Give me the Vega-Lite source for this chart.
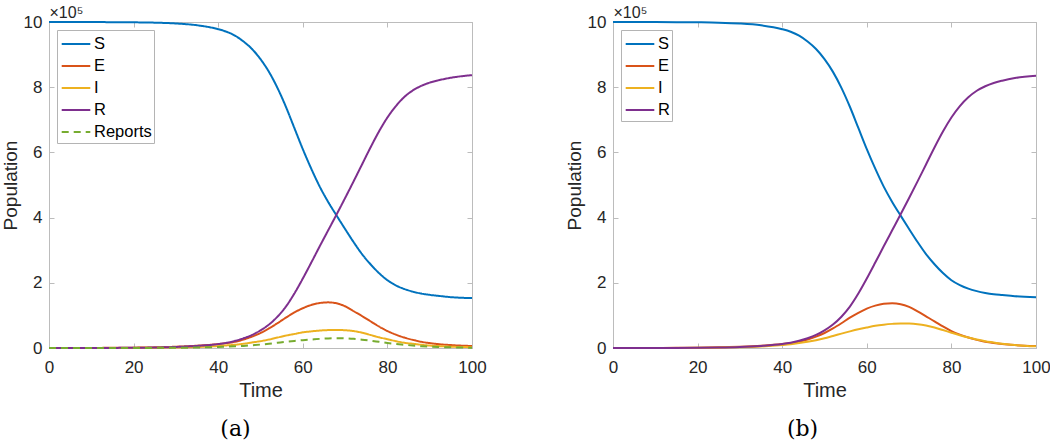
{
  "$schema": "https://vega.github.io/schema/vega-lite/v6.json",
  "background": "white",
  "padding": {"left": 0, "top": 4, "right": 0, "bottom": 4},
  "bounds": "flush",
  "spacing": 141,
  "resolve": {"scale": {"color": "independent", "strokeDash": "independent"}},
  "config": {
    "font": "Liberation Sans",
    "view": {"stroke": "#bcbcbc", "strokeWidth": 1},
    "axis": {
      "grid": false,
      "domainColor": "#bcbcbc",
      "tickColor": "#bcbcbc",
      "tickSize": -5,
      "labelColor": "#262626",
      "titleColor": "#262626",
      "labelFontSize": 17,
      "titleFontSize": 20,
      "titleFontWeight": "normal",
      "labelFlush": false,
      "labelPadding": 12
    },
    "legend": {
      "orient": "top-left",
      "offset": 8,
      "symbolType": "M-1.3,0H1.3",
      "symbolSize": 484,
      "symbolStrokeWidth": 2,
      "symbolOffset": 5,
      "labelFontSize": 16.5,
      "labelColor": "#000000",
      "labelOffset": 6,
      "fillColor": "white",
      "strokeColor": "#b4b4b4",
      "padding": 2,
      "rowPadding": 1
    }
  },
  "datasets": {
    "a": [
      {"t":0,"series":"S","value":1000000},{"t":5,"series":"S","value":1000000},{"t":10,"series":"S","value":999800},{"t":15,"series":"S","value":999500},{"t":20,"series":"S","value":999000},{"t":25,"series":"S","value":998000},{"t":30,"series":"S","value":995500},{"t":35,"series":"S","value":990000},{"t":40,"series":"S","value":978000},{"t":42,"series":"S","value":970000},{"t":44,"series":"S","value":958000},{"t":46,"series":"S","value":940000},{"t":48,"series":"S","value":917000},{"t":50,"series":"S","value":886000},{"t":52,"series":"S","value":847000},{"t":54,"series":"S","value":798000},{"t":56,"series":"S","value":740000},{"t":58,"series":"S","value":675000},{"t":60,"series":"S","value":610000},{"t":62,"series":"S","value":550000},{"t":64,"series":"S","value":495000},{"t":66,"series":"S","value":448000},{"t":68,"series":"S","value":406000},{"t":70,"series":"S","value":365000},{"t":72,"series":"S","value":325000},{"t":74,"series":"S","value":288000},{"t":76,"series":"S","value":257000},{"t":78,"series":"S","value":230000},{"t":80,"series":"S","value":208000},{"t":82,"series":"S","value":192000},{"t":84,"series":"S","value":181000},{"t":86,"series":"S","value":173000},{"t":88,"series":"S","value":167000},{"t":90,"series":"S","value":163000},{"t":92,"series":"S","value":160000},{"t":95,"series":"S","value":156000},{"t":100,"series":"S","value":153000},
      {"t":0,"series":"E","value":0},{"t":5,"series":"E","value":100},{"t":10,"series":"E","value":300},{"t":15,"series":"E","value":500},{"t":20,"series":"E","value":1000},{"t":25,"series":"E","value":2000},{"t":30,"series":"E","value":4000},{"t":35,"series":"E","value":7000},{"t":40,"series":"E","value":12000},{"t":42,"series":"E","value":15000},{"t":44,"series":"E","value":19000},{"t":46,"series":"E","value":26000},{"t":48,"series":"E","value":35000},{"t":50,"series":"E","value":46000},{"t":52,"series":"E","value":60000},{"t":54,"series":"E","value":76000},{"t":56,"series":"E","value":93000},{"t":58,"series":"E","value":109000},{"t":60,"series":"E","value":122000},{"t":62,"series":"E","value":132000},{"t":64,"series":"E","value":138000},{"t":66,"series":"E","value":140000},{"t":68,"series":"E","value":137000},{"t":70,"series":"E","value":128000},{"t":72,"series":"E","value":113000},{"t":74,"series":"E","value":98000},{"t":76,"series":"E","value":82000},{"t":78,"series":"E","value":66000},{"t":80,"series":"E","value":52000},{"t":82,"series":"E","value":41000},{"t":84,"series":"E","value":32000},{"t":86,"series":"E","value":25000},{"t":88,"series":"E","value":19000},{"t":90,"series":"E","value":15000},{"t":92,"series":"E","value":12000},{"t":95,"series":"E","value":9000},{"t":100,"series":"E","value":6000},
      {"t":0,"series":"I","value":0},{"t":5,"series":"I","value":50},{"t":10,"series":"I","value":100},{"t":15,"series":"I","value":200},{"t":20,"series":"I","value":400},{"t":25,"series":"I","value":800},{"t":30,"series":"I","value":1600},{"t":35,"series":"I","value":3000},{"t":40,"series":"I","value":6000},{"t":42,"series":"I","value":8000},{"t":44,"series":"I","value":10000},{"t":46,"series":"I","value":13000},{"t":48,"series":"I","value":17000},{"t":50,"series":"I","value":21000},{"t":52,"series":"I","value":26000},{"t":54,"series":"I","value":32000},{"t":56,"series":"I","value":38000},{"t":58,"series":"I","value":43000},{"t":60,"series":"I","value":48000},{"t":62,"series":"I","value":51000},{"t":64,"series":"I","value":53500},{"t":66,"series":"I","value":55000},{"t":68,"series":"I","value":55500},{"t":70,"series":"I","value":54500},{"t":72,"series":"I","value":52000},{"t":74,"series":"I","value":47000},{"t":76,"series":"I","value":40000},{"t":78,"series":"I","value":33000},{"t":80,"series":"I","value":27000},{"t":82,"series":"I","value":21000},{"t":84,"series":"I","value":16000},{"t":86,"series":"I","value":13000},{"t":88,"series":"I","value":10000},{"t":90,"series":"I","value":7500},{"t":92,"series":"I","value":6000},{"t":95,"series":"I","value":4000},{"t":100,"series":"I","value":2500},
      {"t":0,"series":"R","value":0},{"t":5,"series":"R","value":50},{"t":10,"series":"R","value":100},{"t":15,"series":"R","value":300},{"t":20,"series":"R","value":700},{"t":25,"series":"R","value":1500},{"t":30,"series":"R","value":3200},{"t":35,"series":"R","value":6500},{"t":40,"series":"R","value":12000},{"t":42,"series":"R","value":16000},{"t":44,"series":"R","value":22000},{"t":46,"series":"R","value":30000},{"t":48,"series":"R","value":40000},{"t":50,"series":"R","value":54000},{"t":52,"series":"R","value":72000},{"t":54,"series":"R","value":96000},{"t":56,"series":"R","value":127000},{"t":58,"series":"R","value":167000},{"t":60,"series":"R","value":213000},{"t":62,"series":"R","value":262000},{"t":64,"series":"R","value":312000},{"t":66,"series":"R","value":361000},{"t":68,"series":"R","value":410000},{"t":70,"series":"R","value":460000},{"t":72,"series":"R","value":511000},{"t":74,"series":"R","value":563000},{"t":76,"series":"R","value":615000},{"t":78,"series":"R","value":664000},{"t":80,"series":"R","value":707000},{"t":82,"series":"R","value":742000},{"t":84,"series":"R","value":770000},{"t":86,"series":"R","value":790000},{"t":88,"series":"R","value":804000},{"t":90,"series":"R","value":814000},{"t":92,"series":"R","value":821000},{"t":95,"series":"R","value":829000},{"t":100,"series":"R","value":837000},
      {"t":0,"series":"Reports","value":0},{"t":5,"series":"Reports","value":20},{"t":10,"series":"Reports","value":50},{"t":15,"series":"Reports","value":100},{"t":20,"series":"Reports","value":200},{"t":25,"series":"Reports","value":400},{"t":30,"series":"Reports","value":800},{"t":35,"series":"Reports","value":1500},{"t":40,"series":"Reports","value":3000},{"t":42,"series":"Reports","value":4000},{"t":44,"series":"Reports","value":5000},{"t":46,"series":"Reports","value":6500},{"t":48,"series":"Reports","value":8500},{"t":50,"series":"Reports","value":10500},{"t":52,"series":"Reports","value":13000},{"t":54,"series":"Reports","value":16000},{"t":56,"series":"Reports","value":19000},{"t":58,"series":"Reports","value":21500},{"t":60,"series":"Reports","value":24000},{"t":62,"series":"Reports","value":26000},{"t":64,"series":"Reports","value":28000},{"t":66,"series":"Reports","value":29500},{"t":68,"series":"Reports","value":30000},{"t":70,"series":"Reports","value":29500},{"t":72,"series":"Reports","value":28000},{"t":74,"series":"Reports","value":25500},{"t":76,"series":"Reports","value":22500},{"t":78,"series":"Reports","value":19000},{"t":80,"series":"Reports","value":15500},{"t":82,"series":"Reports","value":12500},{"t":84,"series":"Reports","value":10000},{"t":86,"series":"Reports","value":7500},{"t":88,"series":"Reports","value":5500},{"t":90,"series":"Reports","value":4000},{"t":92,"series":"Reports","value":3000},{"t":95,"series":"Reports","value":2000},{"t":100,"series":"Reports","value":1000}
    ],
    "b": [
      {"t":0,"series":"S","value":1000000},{"t":5,"series":"S","value":1000000},{"t":10,"series":"S","value":999800},{"t":15,"series":"S","value":999500},{"t":20,"series":"S","value":999000},{"t":25,"series":"S","value":998000},{"t":30,"series":"S","value":995500},{"t":35,"series":"S","value":990000},{"t":40,"series":"S","value":978000},{"t":42,"series":"S","value":970000},{"t":44,"series":"S","value":958000},{"t":46,"series":"S","value":940000},{"t":48,"series":"S","value":917000},{"t":50,"series":"S","value":886000},{"t":52,"series":"S","value":847000},{"t":54,"series":"S","value":798000},{"t":56,"series":"S","value":740000},{"t":58,"series":"S","value":675000},{"t":60,"series":"S","value":610000},{"t":62,"series":"S","value":550000},{"t":64,"series":"S","value":495000},{"t":66,"series":"S","value":448000},{"t":68,"series":"S","value":406000},{"t":70,"series":"S","value":365000},{"t":72,"series":"S","value":325000},{"t":74,"series":"S","value":288000},{"t":76,"series":"S","value":257000},{"t":78,"series":"S","value":230000},{"t":80,"series":"S","value":208000},{"t":82,"series":"S","value":193000},{"t":84,"series":"S","value":182000},{"t":86,"series":"S","value":174500},{"t":88,"series":"S","value":169000},{"t":90,"series":"S","value":165000},{"t":92,"series":"S","value":162500},{"t":95,"series":"S","value":159000},{"t":100,"series":"S","value":156000},
      {"t":0,"series":"E","value":0},{"t":5,"series":"E","value":100},{"t":10,"series":"E","value":300},{"t":15,"series":"E","value":500},{"t":20,"series":"E","value":1000},{"t":25,"series":"E","value":2000},{"t":30,"series":"E","value":4000},{"t":35,"series":"E","value":7000},{"t":40,"series":"E","value":12000},{"t":42,"series":"E","value":15000},{"t":44,"series":"E","value":19000},{"t":46,"series":"E","value":26000},{"t":48,"series":"E","value":35000},{"t":50,"series":"E","value":46000},{"t":52,"series":"E","value":60000},{"t":54,"series":"E","value":76000},{"t":56,"series":"E","value":93000},{"t":58,"series":"E","value":108000},{"t":60,"series":"E","value":121000},{"t":62,"series":"E","value":130000},{"t":64,"series":"E","value":135500},{"t":66,"series":"E","value":137000},{"t":68,"series":"E","value":134500},{"t":70,"series":"E","value":126000},{"t":72,"series":"E","value":112000},{"t":74,"series":"E","value":97000},{"t":76,"series":"E","value":82000},{"t":78,"series":"E","value":66000},{"t":80,"series":"E","value":52000},{"t":82,"series":"E","value":41000},{"t":84,"series":"E","value":32000},{"t":86,"series":"E","value":25000},{"t":88,"series":"E","value":19000},{"t":90,"series":"E","value":15000},{"t":92,"series":"E","value":12000},{"t":95,"series":"E","value":9000},{"t":100,"series":"E","value":6000},
      {"t":0,"series":"I","value":0},{"t":5,"series":"I","value":50},{"t":10,"series":"I","value":100},{"t":15,"series":"I","value":300},{"t":20,"series":"I","value":500},{"t":25,"series":"I","value":1100},{"t":30,"series":"I","value":2200},{"t":35,"series":"I","value":4500},{"t":40,"series":"I","value":9000},{"t":42,"series":"I","value":11500},{"t":44,"series":"I","value":15000},{"t":46,"series":"I","value":19000},{"t":48,"series":"I","value":24000},{"t":50,"series":"I","value":30000},{"t":52,"series":"I","value":37000},{"t":54,"series":"I","value":44000},{"t":56,"series":"I","value":51000},{"t":58,"series":"I","value":57500},{"t":60,"series":"I","value":63000},{"t":62,"series":"I","value":68000},{"t":64,"series":"I","value":71500},{"t":66,"series":"I","value":74000},{"t":68,"series":"I","value":75500},{"t":70,"series":"I","value":75000},{"t":72,"series":"I","value":73000},{"t":74,"series":"I","value":69000},{"t":76,"series":"I","value":63000},{"t":78,"series":"I","value":55000},{"t":80,"series":"I","value":47000},{"t":82,"series":"I","value":39000},{"t":84,"series":"I","value":32000},{"t":86,"series":"I","value":26000},{"t":88,"series":"I","value":21000},{"t":90,"series":"I","value":17000},{"t":92,"series":"I","value":13000},{"t":95,"series":"I","value":9000},{"t":100,"series":"I","value":5000},
      {"t":0,"series":"R","value":0},{"t":5,"series":"R","value":50},{"t":10,"series":"R","value":100},{"t":15,"series":"R","value":300},{"t":20,"series":"R","value":700},{"t":25,"series":"R","value":1500},{"t":30,"series":"R","value":3200},{"t":35,"series":"R","value":6500},{"t":40,"series":"R","value":12000},{"t":42,"series":"R","value":16000},{"t":44,"series":"R","value":22000},{"t":46,"series":"R","value":30000},{"t":48,"series":"R","value":40000},{"t":50,"series":"R","value":54000},{"t":52,"series":"R","value":72000},{"t":54,"series":"R","value":96000},{"t":56,"series":"R","value":127000},{"t":58,"series":"R","value":167000},{"t":60,"series":"R","value":213000},{"t":62,"series":"R","value":262000},{"t":64,"series":"R","value":312000},{"t":66,"series":"R","value":361000},{"t":68,"series":"R","value":410000},{"t":70,"series":"R","value":460000},{"t":72,"series":"R","value":511000},{"t":74,"series":"R","value":563000},{"t":76,"series":"R","value":615000},{"t":78,"series":"R","value":664000},{"t":80,"series":"R","value":707000},{"t":82,"series":"R","value":742000},{"t":84,"series":"R","value":769000},{"t":86,"series":"R","value":789000},{"t":88,"series":"R","value":803000},{"t":90,"series":"R","value":813000},{"t":92,"series":"R","value":820000},{"t":95,"series":"R","value":828000},{"t":100,"series":"R","value":835000}
    ]
  },
  "hconcat": [
    {
      "width": 423,
      "height": 326,
      "title": {"text": "(a)", "orient": "bottom", "anchor": "middle", "font": "DejaVu Serif", "fontSize": 22, "fontWeight": "normal", "color": "#000000", "dx": -25, "offset": 19},
      "data": {"name": "a"},
      "resolve": {"axis": {"x": "independent", "y": "independent"}},
      "layer": [
        {
          "mark": {"type": "line", "strokeWidth": 2, "interpolate": "monotone"},
          "encoding": {
            "x": {"field": "t", "type": "quantitative", "scale": {"domain": [0, 100], "nice": false},
                  "axis": {"values": [0, 20, 40, 60, 80, 100], "title": "Time", "titlePadding": 5, "labelPadding": 16}},
            "y": {"field": "value", "type": "quantitative", "scale": {"domain": [0, 1000000], "nice": false},
                  "axis": {"values": [0, 200000, 400000, 600000, 800000, 1000000], "labelExpr": "datum.value / 100000", "title": "Population", "titleFontSize": 19, "titlePadding": 3}},
            "color": {"field": "series", "type": "nominal", "sort": null,
                      "scale": {"domain": ["S", "E", "I", "R", "Reports"], "range": ["#0072BD", "#D95319", "#EDB120", "#7E2F8E", "#77AC30"]},
                      "legend": {"title": null}},
            "strokeDash": {"field": "series", "type": "nominal", "sort": null,
                      "scale": {"domain": ["S", "E", "I", "R", "Reports"], "range": [[1, 0], [1, 0], [1, 0], [1, 0], [7, 5]]},
                      "legend": {"title": null}}
          }
        },
        {
          "mark": {"type": "line", "opacity": 0},
          "encoding": {
            "x": {"field": "t", "type": "quantitative", "scale": {"domain": [0, 100], "nice": false},
                  "axis": {"orient": "top", "values": [0, 20, 40, 60, 80, 100], "labels": false, "title": "×10⁵", "titleAnchor": "start", "titleAlign": "left", "titleFontSize": 16, "titlePadding": 1, "titleFont": "Liberation Sans, DejaVu Sans"}},
            "y": {"field": "value", "type": "quantitative", "scale": {"domain": [0, 1000000], "nice": false},
                  "axis": {"orient": "right", "values": [0, 200000, 400000, 600000, 800000, 1000000], "labels": false, "title": null}}
          }
        }
      ]
    },
    {
      "width": 423,
      "height": 326,
      "title": {"text": "(b)", "orient": "bottom", "anchor": "middle", "font": "DejaVu Serif", "fontSize": 22, "fontWeight": "normal", "color": "#000000", "dx": -22, "offset": 19},
      "data": {"name": "b"},
      "resolve": {"axis": {"x": "independent", "y": "independent"}},
      "layer": [
        {
          "mark": {"type": "line", "strokeWidth": 2, "interpolate": "monotone"},
          "encoding": {
            "x": {"field": "t", "type": "quantitative", "scale": {"domain": [0, 100], "nice": false},
                  "axis": {"values": [0, 20, 40, 60, 80, 100], "title": "Time", "titlePadding": 5, "labelPadding": 16}},
            "y": {"field": "value", "type": "quantitative", "scale": {"domain": [0, 1000000], "nice": false},
                  "axis": {"values": [0, 200000, 400000, 600000, 800000, 1000000], "labelExpr": "datum.value / 100000", "title": "Population", "titleFontSize": 19, "titlePadding": 3}},
            "color": {"field": "series", "type": "nominal", "sort": null,
                      "scale": {"domain": ["S", "E", "I", "R"], "range": ["#0072BD", "#D95319", "#EDB120", "#7E2F8E"]},
                      "legend": {"title": null}}
          }
        },
        {
          "mark": {"type": "line", "opacity": 0},
          "encoding": {
            "x": {"field": "t", "type": "quantitative", "scale": {"domain": [0, 100], "nice": false},
                  "axis": {"orient": "top", "values": [0, 20, 40, 60, 80, 100], "labels": false, "title": "×10⁵", "titleAnchor": "start", "titleAlign": "left", "titleFontSize": 16, "titlePadding": 1, "titleFont": "Liberation Sans, DejaVu Sans"}},
            "y": {"field": "value", "type": "quantitative", "scale": {"domain": [0, 1000000], "nice": false},
                  "axis": {"orient": "right", "values": [0, 200000, 400000, 600000, 800000, 1000000], "labels": false, "title": null}}
          }
        }
      ]
    }
  ]
}
